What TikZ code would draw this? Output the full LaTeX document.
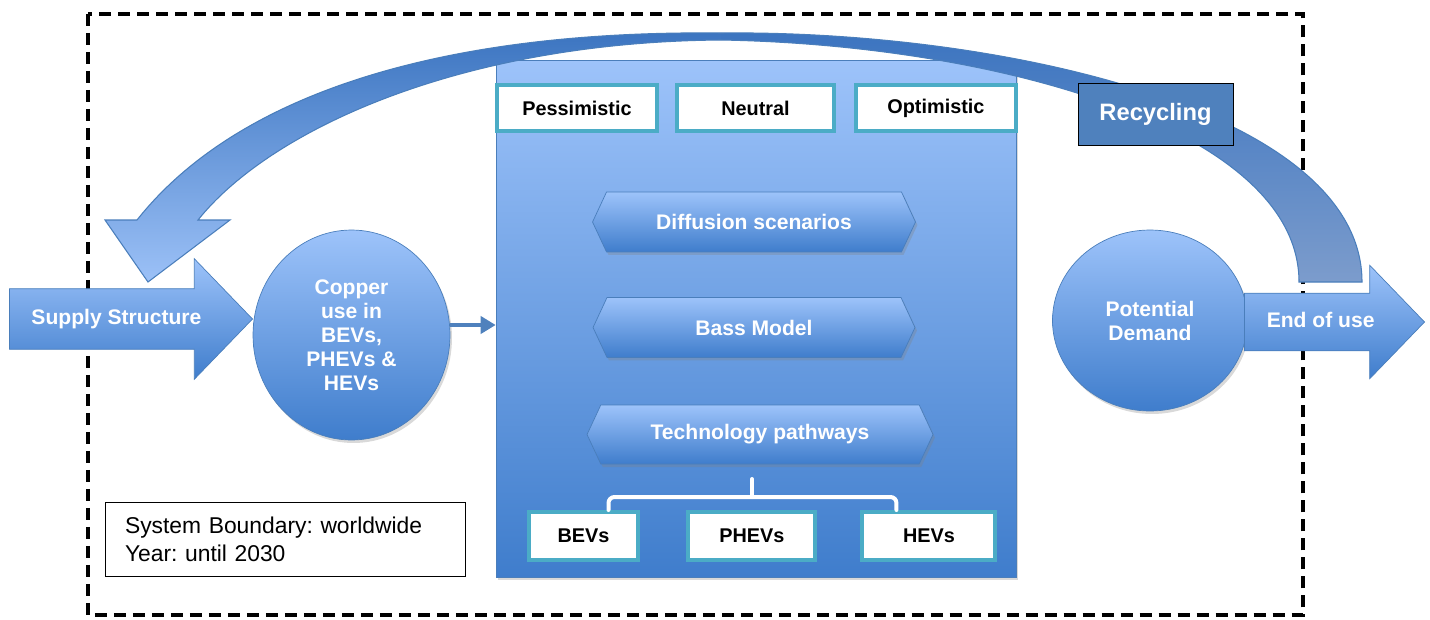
\documentclass[tikz,border=0pt]{standalone}
\usepackage{fontspec}
\setmainfont{Liberation Sans}
\usetikzlibrary{positioning,calc,shapes.geometric,shapes.symbols,shapes.arrows,shadows,arrows.meta}

\definecolor{paleblue}{HTML}{9DC3FA}
\definecolor{deepblue}{HTML}{3F7DCC}
\definecolor{rimblue}{HTML}{4A7EBB}
\definecolor{boxteal}{HTML}{4BACC6}
\definecolor{recblue}{HTML}{4F81BD}
\definecolor{arcdark}{HTML}{3B74C0}
\definecolor{arclight}{HTML}{9CC1F7}
\definecolor{arcgrey}{HTML}{7C9CCC}

\tikzset{
  bluefill/.style={draw=rimblue, top color=paleblue, bottom color=deepblue},
  whitetext/.style={text=white, font=\fontsize{12}{13.7}\selectfont\bfseries, align=center},
  softshadow/.style={drop shadow={opacity=0.3, shadow xshift=0.04cm, shadow yshift=-0.06cm}},
  casebox/.style={draw=boxteal, fill=white, line width=0.08cm, font=\fontsize{11.3}{13}\selectfont\bfseries, minimum height=0.92cm, inner sep=0pt},
  stage/.style={bluefill, whitetext, signal, signal to=west and east, signal pointer angle=130, minimum height=1.2cm, inner sep=0pt, softshadow},
  blob/.style={bluefill, whitetext, ellipse, inner sep=0pt, softshadow},
  flow/.style={bluefill, whitetext, single arrow, single arrow tip angle=92, inner xsep=0pt, text height=9pt, text depth=3pt},
  boundary/.style={line width=0.08cm, dash pattern=on 0.24cm off 0.14cm},
  link/.style={draw=recblue, line width=0.08cm, -{Triangle[length=0.3cm, width=0.34cm]}},
  bracket/.style={draw=white, line width=0.08cm, rounded corners=0.12cm, line cap=round},
}

% outline of the recycling loop, in pixel units
\newcommand\recyclearc{(1362,282) .. controls (1362,110) and (1000,30) .. (721,33)
  .. controls (450,30) and (240,90) .. (137,220) -- (105,220) -- (148,282) -- (230,220) -- (198,220)
  .. controls (270,130) and (460,42) .. (721,40) .. controls (1000,45) and (1299,130) .. (1299,282) -- cycle}

\begin{document}
\frenchspacing
\begin{tikzpicture}[x=0.02cm, y=-0.02cm]
  \useasboundingbox (0,0) rectangle (1430,619);
  \draw[boundary] (88,14) rectangle (1303,615);

  % central model panel
  \node[bluefill, softshadow, minimum width=10.4cm, minimum height=10.34cm] (panel) at (756,318.5) {};
  \node[casebox, minimum width=3.2cm] (pess) at (577,108) {Pessimistic};
  \node[casebox, minimum width=3.14cm, right=0.32cm of pess] (neut) {Neutral};
  \node[casebox, minimum width=3.2cm, right=0.36cm of neut] (opti) {Optimistic};

  \node[stage, minimum width=6.46cm] (diff) at (754,222) {Diffusion scenarios};
  \node[stage, minimum width=6.44cm] (bass) at (754,327.5) {Bass Model};
  \node[stage, minimum width=6.92cm, minimum height=1.18cm] (tech) at (760,434.5) {Technology pathways};

  \node[casebox, minimum width=2.2cm, minimum height=0.96cm] (bev) at (583.5,536) {BEVs};
  \node[casebox, minimum width=2.54cm, minimum height=0.96cm, right=0.92cm of bev] (phev) {PHEVs};
  \node[casebox, minimum width=2.66cm, minimum height=0.96cm, right=0.86cm of phev] (hev) {HEVs};
  \coordinate (brmid) at (752,497);
  \draw[bracket] ([xshift=0.5cm]bev.north) |- (brmid) -| ([xshift=-0.65cm]hev.north);
  \draw[bracket] (brmid) -- ++(0,-18);

  % left: supply and copper use
  \node[flow, minimum height=4.86cm, inner ysep=0.388cm, single arrow head extend=0.6cm, anchor=tip] (supply) at (253,319) {Supply Structure};
  \node[blob, minimum width=3.94cm, minimum height=4.2cm] (copper) at (351.5,335) {Copper\\use in\\BEVs,\\PHEVs \&\\HEVs};
  \coordinate (cuout) at ([yshift=0.2cm]copper.east);
  \draw[link] (cuout) -- (cuout -| panel.west);

  % right: demand and end of use
  \node[blob, minimum width=3.9cm, minimum height=3.62cm] (demand) at (1150,320.5) {Potential\\Demand};
  \node[flow, minimum height=3.6cm, inner ysep=0.358cm, single arrow head extend=0.56cm, anchor=tip] (eou) at (1425,322) {End of use};

  % recycling loop
  \begin{scope}
    \clip (0,0) rectangle (721,619);
    \shade[top color=arcdark, bottom color=arclight] \recyclearc;
  \end{scope}
  \begin{scope}
    \clip (721,0) rectangle (1430,619);
    \shade[top color=arcdark, bottom color=arcgrey] \recyclearc;
  \end{scope}
  \draw[rimblue, line width=0.6pt] \recyclearc;
  \node[draw=black, fill=recblue, text=white, font=\fontsize{13.5}{15}\selectfont\bfseries, minimum width=3.1cm, minimum height=1.24cm] (recyc) at (1155.5,114) {Recycling};

  \node[draw=black, fill=white, font=\fontsize{13}{16}\selectfont, align=left, text width=6.4cm, inner xsep=0.4cm, minimum height=1.48cm] (scope) at (285,539) {System Boundary: worldwide\\Year: until 2030};
\end{tikzpicture}
\end{document}
